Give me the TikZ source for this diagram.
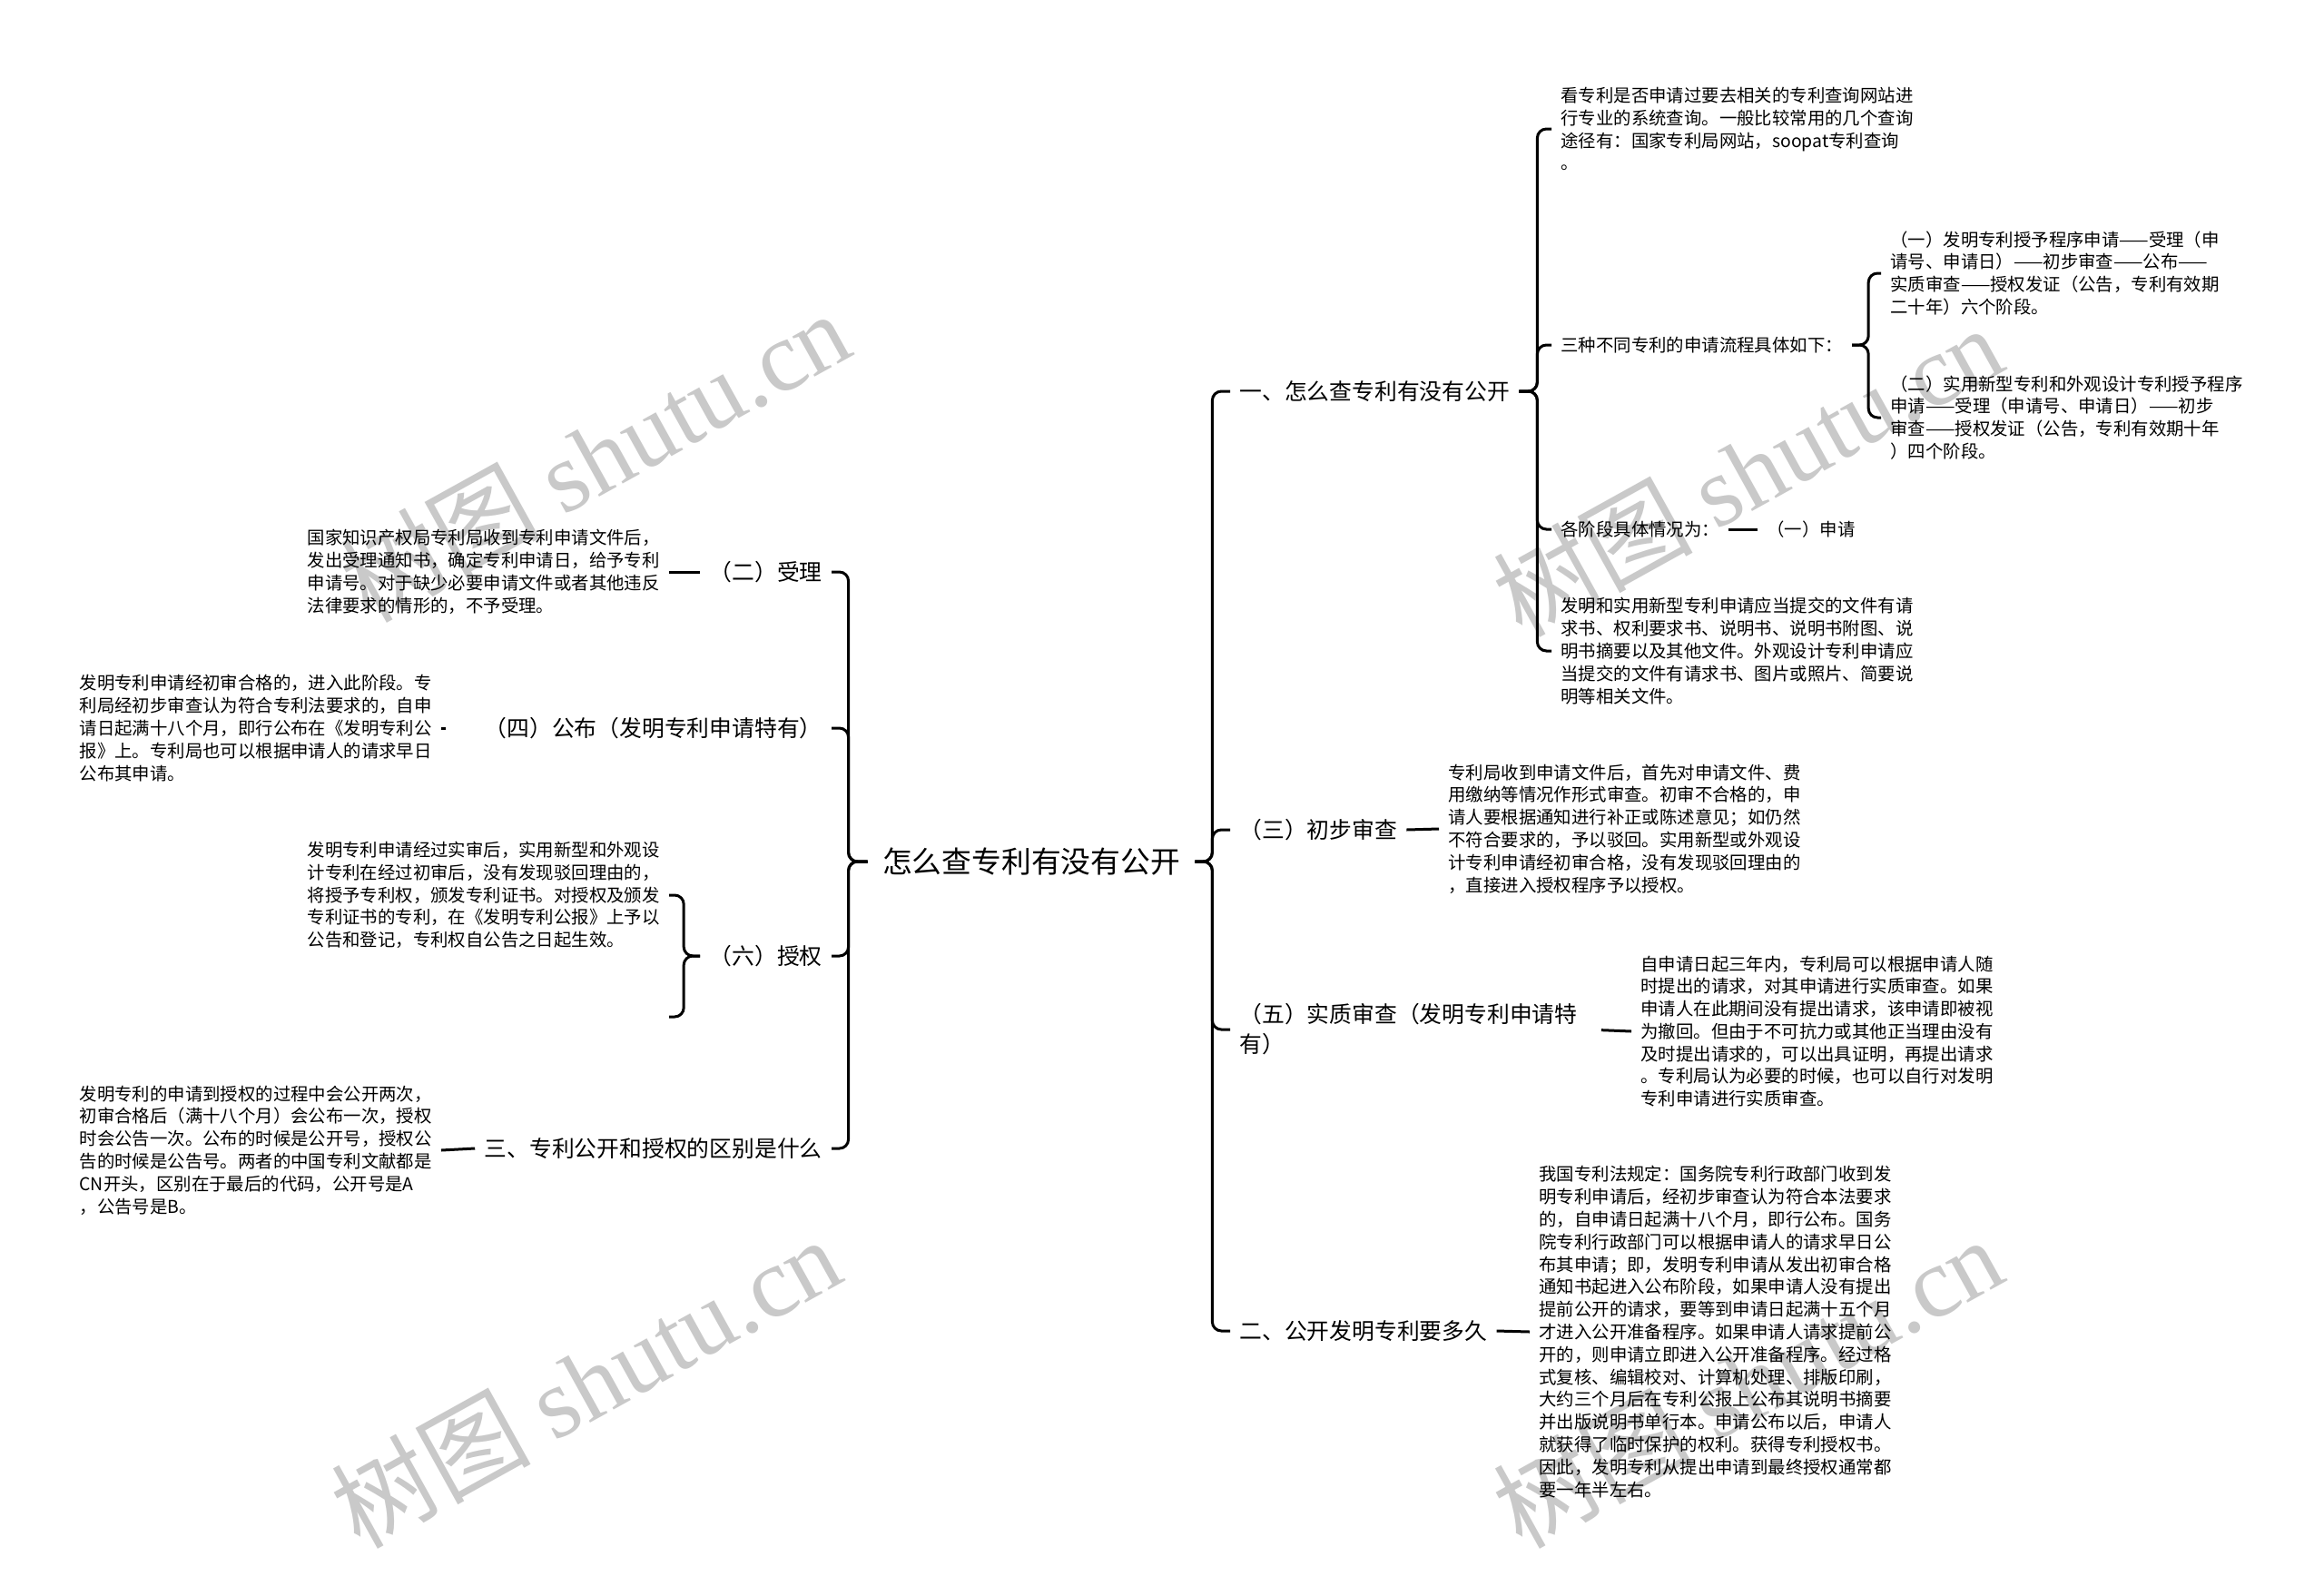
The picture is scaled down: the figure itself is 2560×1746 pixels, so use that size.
\documentclass[tikz,border=0pt]{standalone}
\usepackage{fontspec}
\setmainfont{Noto Sans CJK SC}
\newfontfamily\latinserif{Liberation Serif}

\begin{document}
\begin{tikzpicture}[x=0.5pt, y=-0.5pt,
  link/.style={draw=black, line width=1.5pt, rounded corners=5pt},
  topic/.style={font=\fontsize{16.4}{20}\selectfont, inner xsep=8pt, inner ysep=2pt},
  branch/.style={font=\fontsize{12.4}{16.5}\selectfont, align=left, inner xsep=5pt, inner ysep=2pt},
  leaf/.style={font=\fontsize{9.7}{12.4}\selectfont, align=left, inner xsep=5pt, inner ysep=2pt},
  wmark/.style={text=black!21, font=\fontsize{55}{55}\selectfont, rotate=29}]
\fill[white] (0,0) rectangle (2560,1746);
\useasboundingbox (0,0) rectangle (2560,1746);

\node[wmark] (wm1) at (655,502) {树图 {\latinserif shutu.cn}};
\node[wmark] (wm2) at (1925,518) {树图 {\latinserif shutu.cn}};
\node[wmark] (wm3) at (645,1522) {树图 {\latinserif shutu.cn}};
\node[wmark] (wm4) at (1925,1522) {树图 {\latinserif shutu.cn}};

\node[topic] (root) at (1136,949) {怎么查专利有没有公开};

\node[branch, anchor=west] (n1) at (1355,431) {一、怎么查专利有没有公开};
\node[branch, anchor=west] (n3) at (1355,914) {（三）初步审查};
\node[branch, anchor=west] (n5) at (1355,1134) {（五）实质审查（发明专利申请特\\有）};
\node[branch, anchor=west] (n2) at (1355,1466) {二、公开发明专利要多久};

\node[branch, anchor=east] (m2) at (916,630) {（二）受理};
\node[branch, anchor=east] (m4) at (916,802) {（四）公布（发明专利申请特有）};
\node[branch, anchor=east] (m6) at (916,1053) {（六）授权};
\node[branch, anchor=east] (m3) at (916,1265) {三、专利公开和授权的区别是什么};

\node[leaf, anchor=west] (t1) at (1709,142) {看专利是否申请过要去相关的专利查询网站进\\行专业的系统查询。一般比较常用的几个查询\\途径有：国家专利局网站，soopat专利查询\\。};
\node[leaf, anchor=west] (t2) at (1709,380) {三种不同专利的申请流程具体如下：};
\node[leaf, anchor=west] (t3) at (1709,583) {各阶段具体情况为：};
\node[leaf, anchor=west] (t4) at (1709,717) {发明和实用新型专利申请应当提交的文件有请\\求书、权利要求书、说明书、说明书附图、说\\明书摘要以及其他文件。外观设计专利申请应\\当提交的文件有请求书、图片或照片、简要说\\明等相关文件。};
\node[leaf, anchor=west] (s1) at (2072,301) {（一）发明专利授予程序申请——受理（申\\请号、申请日）——初步审查——公布——\\实质审查——授权发证（公告，专利有效期\\二十年）六个阶段。};
\node[leaf, anchor=west] (s2) at (2072,460) {（二）实用新型专利和外观设计专利授予程序\\申请——受理（申请号、申请日）——初步\\审查——授权发证（公告，专利有效期十年\\）四个阶段。};
\node[leaf, anchor=west] (s3) at (1936,583) {（一）申请};

\node[leaf, anchor=west] (l3) at (1585,913) {专利局收到申请文件后，首先对申请文件、费\\用缴纳等情况作形式审查。初审不合格的，申\\请人要根据通知进行补正或陈述意见；如仍然\\不符合要求的，予以驳回。实用新型或外观设\\计专利申请经初审合格，没有发现驳回理由的\\，直接进入授权程序予以授权。};
\node[leaf, anchor=west] (l5) at (1797,1136) {自申请日起三年内，专利局可以根据申请人随\\时提出的请求，对其申请进行实质审查。如果\\申请人在此期间没有提出请求，该申请即被视\\为撤回。但由于不可抗力或其他正当理由没有\\及时提出请求的，可以出具证明，再提出请求\\。专利局认为必要的时候，也可以自行对发明\\专利申请进行实质审查。};
\node[leaf, anchor=west] (l2) at (1685,1467) {我国专利法规定：国务院专利行政部门收到发\\明专利申请后，经初步审查认为符合本法要求\\的，自申请日起满十八个月，即行公布。国务\\院专利行政部门可以根据申请人的请求早日公\\布其申请；即，发明专利申请从发出初审合格\\通知书起进入公布阶段，如果申请人没有提出\\提前公开的请求，要等到申请日起满十五个月\\才进入公开准备程序。如果申请人请求提前公\\开的，则申请立即进入公开准备程序。经过格\\式复核、编辑校对、计算机处理、排版印刷，\\大约三个月后在专利公报上公布其说明书摘要\\并出版说明书单行本。申请公布以后，申请人\\就获得了临时保护的权利。获得专利授权书。\\因此，发明专利从提出申请到最终授权通常都\\要一年半左右。};

\node[leaf, anchor=east] (k2) at (737,630) {国家知识产权局专利局收到专利申请文件后，\\发出受理通知书，确定专利申请日，给予专利\\申请号。对于缺少必要申请文件或者其他违反\\法律要求的情形的，不予受理。};
\node[leaf, anchor=east] (k4) at (486,802) {发明专利申请经初审合格的，进入此阶段。专\\利局经初步审查认为符合专利法要求的，自申\\请日起满十八个月，即行公布在《发明专利公\\报》上。专利局也可以根据申请人的请求早日\\公布其申请。};
\node[leaf, anchor=east] (k6) at (737,986) {发明专利申请经过实审后，实用新型和外观设\\计专利在经过初审后，没有发现驳回理由的，\\将授予专利权，颁发专利证书。对授权及颁发\\专利证书的专利，在《发明专利公报》上予以\\公告和登记，专利权自公告之日起生效。};
\coordinate (e6) at (737,1120);
\node[leaf, anchor=east] (k3) at (486,1267) {发明专利的申请到授权的过程中会公开两次，\\初审合格后（满十八个月）会公布一次，授权\\时会公告一次。公布的时候是公开号，授权公\\告的时候是公告号。两者的中国专利文献都是\\CN开头，区别在于最后的代码，公开号是A\\，公告号是B。};

\draw[link] (root.east) -- ++(19,0) |- (n1.west);
\draw[link] (root.east) -- ++(19,0) |- (n3.west);
\draw[link] (root.east) -- ++(19,0) |- (n5.west);
\draw[link] (root.east) -- ++(19,0) |- (n2.west);
\draw[link] (root.west) -- ++(-21,0) |- (m2.east);
\draw[link] (root.west) -- ++(-21,0) |- (m4.east);
\draw[link] (root.west) -- ++(-21,0) |- (m6.east);
\draw[link] (root.west) -- ++(-21,0) |- (m3.east);

\draw[link] (n1.east) -- ++(20,0) |- (t1.west);
\draw[link] (n1.east) -- ++(20,0) |- (t2.west);
\draw[link] (n1.east) -- ++(20,0) |- (t3.west);
\draw[link] (n1.east) -- ++(20,0) |- (t4.west);
\draw[link] (t2.east) -- ++(18,0) |- (s1.west);
\draw[link] (t2.east) -- ++(18,0) |- (s2.west);
\draw[link] (t3.east) -- (s3.west);
\draw[link] (n3.east) -- (l3.west);
\draw[link, shorten <=8pt] (n5.east) -- (l5.west);
\draw[link] (n2.east) -- (l2.west);

\draw[link] (m2.west) -- (k2.east);
\draw[link, shorten <=16pt] (m4.west) -- (k4.east);
\draw[link] (m6.west) -- ++(-18,0) |- (k6.east);
\draw[link] (m6.west) -- ++(-18,0) |- (e6);
\draw[link] (m3.west) -- (k3.east);
\end{tikzpicture}
\end{document}
